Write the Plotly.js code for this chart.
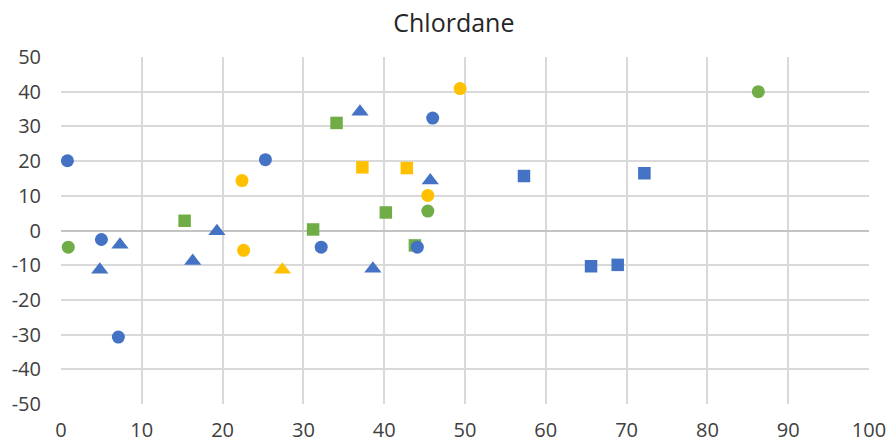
<!DOCTYPE html>
<html>
<head>
<meta charset="utf-8">
<script src="https://cdn.plot.ly/plotly-3.0.1.min.js"></script>
<style>html,body{margin:0;padding:0;background:#fff;}#chart{width:890px;height:442px;}</style>
</head>
<body>
<div id="chart"></div>
<script>
// Data
const blueCircleX = [0.8, 5.0, 7.1, 25.3, 32.2, 44.1, 46.0];
const blueCircleY = [20.1, -2.6, -30.7, 20.4, -4.8, -4.8, 32.4];
const blueTriangleX = [4.8, 7.3, 16.3, 19.3, 37.0, 38.6, 45.7];
const blueTriangleY = [-11.3, -4.1, -8.8, -0.2, 34.2, -11.0, 14.4];
const blueSquareX = [57.3, 65.6, 68.9, 72.2];
const blueSquareY = [15.7, -10.3, -9.9, 16.5];
const greenCircleX = [0.9, 45.4, 86.3];
const greenCircleY = [-4.8, 5.6, 40.0];
const greenSquareX = [15.3, 31.2, 34.1, 40.2, 43.8];
const greenSquareY = [2.8, 0.3, 31.0, 5.2, -4.3];
const yellowCircleX = [22.4, 22.6, 45.4, 49.4];
const yellowCircleY = [14.4, -5.7, 10.1, 40.9];
const yellowSquareX = [37.3, 42.8];
const yellowSquareY = [18.2, 18.0];
const yellowTriangleX = [27.4];
const yellowTriangleY = [-11.3];
const xTicks = [0,10,20,30,40,50,60,70,80,90,100];
const yTicks = [-50,-40,-30,-20,-10,0,10,20,30,40,50];

const BLUE = '#4472C4', GREEN = '#70AD47', YELLOW = '#FFC000';
function tr(x, y, color, symbol, size) {
  return {x: x, y: y, type: 'scatter', mode: 'markers',
    marker: {color: color, symbol: symbol, size: size, line: {width: 0}},
    hoverinfo: 'x+y', showlegend: false};
}
const data = [
  tr(greenCircleX, greenCircleY, GREEN, 'circle', 13),
  tr(greenSquareX, greenSquareY, GREEN, 'square', 12.5),
  tr(blueCircleX, blueCircleY, BLUE, 'circle', 13),
  tr(blueTriangleX, blueTriangleY, BLUE, 'triangle-up', 15),
  tr(blueSquareX, blueSquareY, BLUE, 'square', 12.5),
  tr(yellowCircleX, yellowCircleY, YELLOW, 'circle', 13),
  tr(yellowSquareX, yellowSquareY, YELLOW, 'square', 12.5),
  tr(yellowTriangleX, yellowTriangleY, YELLOW, 'triangle-up', 15)
];
const tickFont = {family: 'Open Sans, Noto Sans, sans-serif', size: 20, color: '#404040'};
const layout = {
  width: 890, height: 442,
  margin: {l: 61, r: 21, t: 57, b: 38, pad: 0},
  paper_bgcolor: '#fff', plot_bgcolor: '#fff',
  title: {text: 'Chlordane', x: 0.51, xref: 'container', xanchor: 'center', y: 0.948, yref: 'container', yanchor: 'middle',
    font: {family: 'Open Sans, Noto Sans, sans-serif', size: 25, color: '#262626'}},
  xaxis: {range: [0, 100], tickvals: xTicks, ticktext: xTicks.map(String), showgrid: true,
    gridcolor: '#d9d9d9', gridwidth: 2, zeroline: false, showline: false, ticks: '',
    tickfont: tickFont, ticklabelstandoff: 12, automargin: false, fixedrange: true},
  yaxis: {range: [-50, 50], tickvals: yTicks, ticktext: yTicks.map(String), showgrid: true,
    gridcolor: '#d9d9d9', gridwidth: 2, zeroline: true, zerolinecolor: '#c4c4c4', zerolinewidth: 2,
    showline: false, ticks: '', tickfont: tickFont, ticklabelstandoff: 19, automargin: false, fixedrange: true},
  showlegend: false
};
Plotly.newPlot('chart', data, layout, {displayModeBar: false, staticPlot: true});
</script>
</body>
</html>
